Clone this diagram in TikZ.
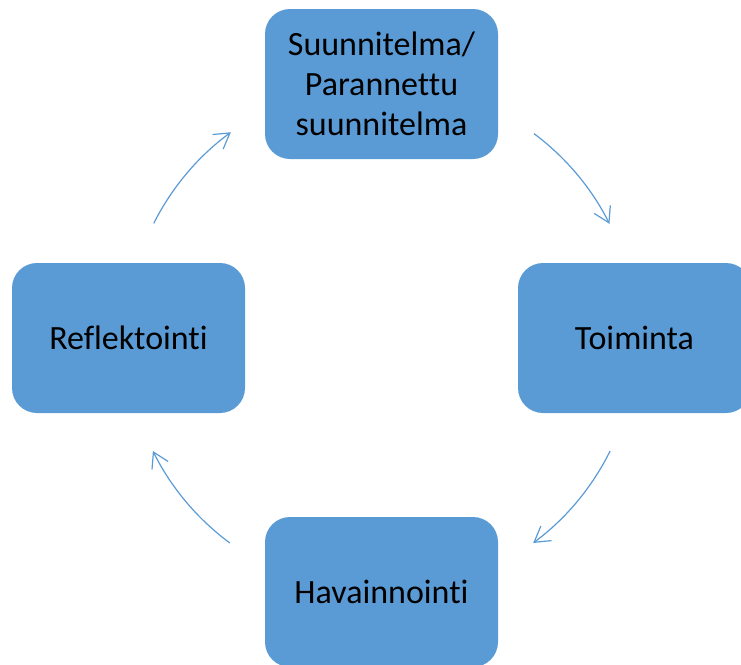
\documentclass[tikz,border=0pt]{standalone}
\usepackage{fontspec}
\setmainfont{Carlito}[RawFeature=-liga]
\usetikzlibrary{arrows.meta}
\definecolor{boxblue}{HTML}{5B9BD5}
\tikzset{
  stagebox/.style={fill=boxblue, draw=none, rounded corners=25pt, minimum width=233pt, minimum height=150pt,
    inner sep=0pt, align=center, text=black, font=\fontsize{34}{40}\selectfont},
  cyclearrow/.style={draw=boxblue, line width=1.2pt, -{Straight Barb[length=15pt,width=18pt,line width=1.2pt]}}
}
\begin{document}
\begin{tikzpicture}[x=1pt,y=-1pt]
\useasboundingbox (0,0) rectangle (741,664);
\node[stagebox] (plan) at (381.5,84) {Suunnitelma/\\Parannettu\\suunnitelma};
\node[stagebox] (act) at (634.5,338) {Toiminta};
\node[stagebox] (obs) at (381.5,592) {Havainnointi};
\node[stagebox] (refl) at (128.5,338) {Reflektointi};
\coordinate (c) at (381.5,338);
\draw[cyclearrow] ([shift={(c)}]-53.3:255) arc[start angle=-53.3, end angle=-26.6, radius=255];
\draw[cyclearrow] ([shift={(c)}]26.3:255) arc[start angle=26.3, end angle=53.5, radius=255];
\draw[cyclearrow] ([shift={(c)}]126.5:255) arc[start angle=126.5, end angle=153.7, radius=255];
\draw[cyclearrow] ([shift={(c)}]206.7:255) arc[start angle=206.7, end angle=233.8, radius=255];
\end{tikzpicture}
\end{document}
